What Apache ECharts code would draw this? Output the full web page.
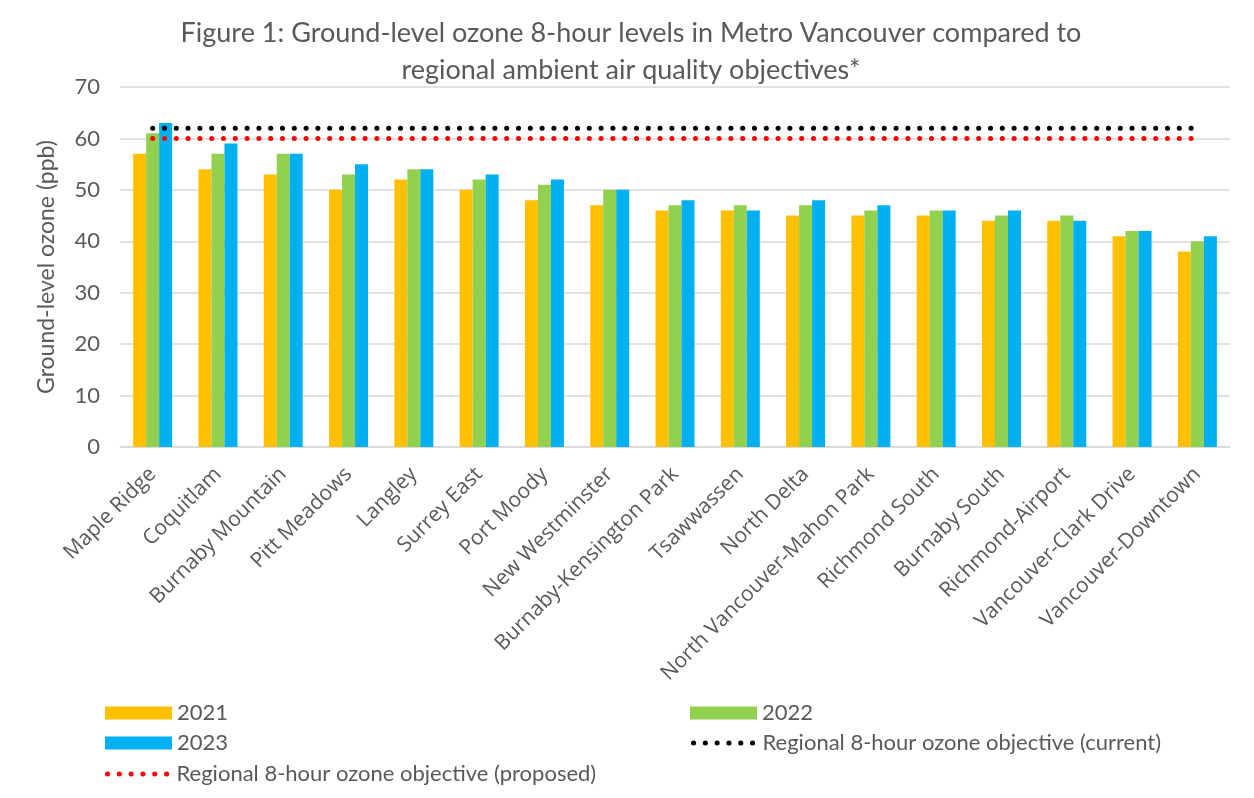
<!DOCTYPE html>
<html>
<head>
<meta charset="utf-8">
<script src="https://cdn.jsdelivr.net/npm/echarts@6/dist/echarts.min.js"></script>
<style>
  html, body { margin: 0; padding: 0; background: #fff; }
  #chart { width: 1254px; height: 798px; }
</style>
</head>
<body>
<div id="chart"></div>
<script>
// Monitoring stations, ordered by 2021 level
const stations = [
  'Maple Ridge', 'Coquitlam', 'Burnaby Mountain', 'Pitt Meadows', 'Langley',
  'Surrey East', 'Port Moody', 'New Westminster', 'Burnaby-Kensington Park',
  'Tsawwassen', 'North Delta', 'North Vancouver-Mahon Park', 'Richmond South',
  'Burnaby South', 'Richmond-Airport', 'Vancouver-Clark Drive', 'Vancouver-Downtown'
];

// 8-hour ozone levels (ppb)
const ozone2021 = [57, 54, 53, 50, 52, 50, 48, 47, 46, 46, 45, 45, 45, 44, 44, 41, 38];
const ozone2022 = [61, 57, 57, 53, 54, 52, 51, 50, 47, 47, 47, 46, 46, 45, 45, 42, 40];
const ozone2023 = [63, 59, 57, 55, 54, 53, 52, 50, 48, 46, 48, 47, 46, 46, 44, 42, 41];

// Regional objectives (ppb)
const objectiveCurrent = 62;
const objectiveProposed = 60;

const FONT = 'Lato, "Open Sans", sans-serif';
const LABEL_FONT = '"Open Sans", Lato, sans-serif';
const TXT = '#595959';

const chart = echarts.init(document.getElementById('chart'), null, { renderer: 'canvas' });

const dotted = (color) => ({
  color: color,
  width: 5,
  type: [0.1, 11.7],
  cap: 'round'
});

const barSeries = (name, data, color) => ({
  name: name,
  type: 'bar',
  data: data,
  barWidth: 13,
  barGap: '0%',
  itemStyle: { color: color },
  z: 2
});

const lineSeries = (name, value, color) => ({
  name: name,
  type: 'line',
  data: stations.map(() => value),
  symbol: 'none',
  lineStyle: dotted(color),
  itemStyle: { color: color },
  z: 5,
  silent: true
});

const legendBase = {
  itemWidth: 67,
  itemHeight: 13,
  itemGap: 8,
  textStyle: { color: TXT, fontSize: 22, fontFamily: FONT },
  icon: 'rect',
  selectedMode: false
};

const lineLegend = (name, color, left, top) => Object.assign({}, legendBase, {
  left: left,
  top: top,
  icon: null,
  itemWidth: 64,
  itemGap: 10,
  lineStyle: dotted(color),
  data: [{ name: name, itemStyle: { opacity: 0 } }]
});

chart.setOption({
  animation: false,
  backgroundColor: '#ffffff',
  title: {
    text: 'Figure 1: Ground-level ozone 8-hour levels in Metro Vancouver compared to\nregional ambient air quality objectives*',
    left: 626,
    textAlign: 'center',
    top: 10,
    textStyle: {
      color: TXT,
      fontSize: 27,
      fontWeight: 'normal',
      fontFamily: FONT,
      lineHeight: 37
    }
  },
  legend: [
    Object.assign({}, legendBase, { left: 100, top: 697, data: ['2021'] }),
    Object.assign({}, legendBase, { left: 685, top: 697, data: ['2022'] }),
    Object.assign({}, legendBase, { left: 100, top: 727, data: ['2023'] }),
    lineLegend('Regional 8-hour ozone objective (current)', '#000000', 686, 727),
    lineLegend('Regional 8-hour ozone objective (proposed)', '#ff0000', 100, 758)
  ],
  grid: {
    left: 120,
    right: 24,
    top: 87,
    bottom: 351,
    containLabel: false
  },
  xAxis: {
    type: 'category',
    data: stations,
    boundaryGap: true,
    axisLine: { show: true, lineStyle: { color: '#d9d9d9', width: 1.5 } },
    axisTick: { show: false },
    axisLabel: {
      interval: 0,
      rotate: 45,
      color: TXT,
      fontSize: 21,
      fontFamily: LABEL_FONT,
      margin: 24
    }
  },
  yAxis: {
    type: 'value',
    min: 0,
    max: 70,
    interval: 10,
    name: 'Ground-level ozone (ppb)',
    nameLocation: 'middle',
    nameGap: 62,
    nameRotate: 90,
    nameTextStyle: { color: TXT, fontSize: 23, fontFamily: FONT },
    axisLine: { show: false },
    axisTick: { show: false },
    axisLabel: { color: TXT, fontSize: 22, fontFamily: FONT, margin: 20 },
    splitLine: { lineStyle: { color: '#d9d9d9', width: 1.5 } }
  },
  series: [
    barSeries('2021', ozone2021, '#ffc000'),
    barSeries('2022', ozone2022, '#92d050'),
    barSeries('2023', ozone2023, '#00b0f0'),
    lineSeries('Regional 8-hour ozone objective (current)', objectiveCurrent, '#000000'),
    lineSeries('Regional 8-hour ozone objective (proposed)', objectiveProposed, '#ff0000')
  ]
});
</script>
</body>
</html>
